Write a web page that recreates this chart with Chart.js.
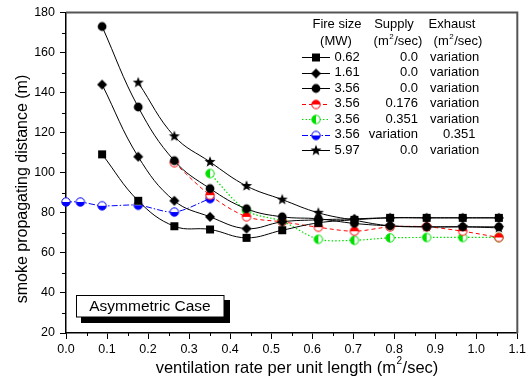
<!DOCTYPE html>
<html>
<head>
<meta charset="utf-8">
<script src="https://cdn.jsdelivr.net/npm/chart.js@4/dist/chart.umd.min.js"></script>
<style>
  html, body { margin: 0; padding: 0; background: #fff; }
  #wrap { width: 529px; height: 379px; position: relative; }
</style>
</head>
<body>
<div id="wrap"><canvas id="chart" width="529" height="379"></canvas></div>
<script>
// ventilation rate per unit length (m2/sec)
const xRate = [0.088, 0.176, 0.264, 0.351, 0.44, 0.527, 0.615, 0.703, 0.79, 0.879, 0.967, 1.055];
const blueX = [0.0, 0.035, 0.088, 0.176, 0.264, 0.351];

// smoke propagating distance (m)
const sq062 = [109.2, 86, 73.3, 71.7, 67.5, 71.3, 75, 76.5, 77.5, 77.5, 77.5, 77.5];
const dia161 = [144, 108, 86, 78, 72.1, 75.5, 76.5, 77, 77.5, 77.5, 77.5, 77.5];
const circ356 = [173, 132.8, 106, 92.1, 82, 78, 77, 74.7, 73.5, 73, 73, 73];
const red356 = [105, 88.8, 78, 75.5, 72.8, 70.8, 73, 73, 70.8, 67.7];      // from 0.264
const green356 = [99.6, 81, 75.8, 66.8, 66.3, 67.5, 67.7, 67.7, 67.7];     // from 0.351
const blue356 = [85.4, 85.4, 83.5, 83.8, 80.4, 87.1];
const star597 = [145, 118.2, 105.4, 93.4, 86.6, 80, 76.3, 73.5, 73, 73, 72.5]; // from 0.176

const legendRows = [
  ['0.62', '0.0', 'variation'],
  ['1.61', '0.0', 'variation'],
  ['3.56', '0.0', 'variation'],
  ['3.56', '0.176', 'variation'],
  ['3.56', '0.351', 'variation'],
  ['3.56', 'variation', '0.351'],
  ['5.97', '0.0', 'variation']
];

const FONT = "Arial, 'Liberation Sans', sans-serif";

function pts(xs, ys) {
  return ys.map((v, i) => ({ x: xs[i], y: v }));
}

function marker(shape, color) {
  const c = document.createElement('canvas');
  c.width = 16; c.height = 16;
  const g = c.getContext('2d');
  const m = 8;
  g.fillStyle = color;
  g.strokeStyle = color;
  if (shape === 'square') {
    g.fillRect(m - 4, m - 4, 8, 8);
  } else if (shape === 'diamond') {
    g.beginPath();
    g.moveTo(m, m - 5); g.lineTo(m + 5, m); g.lineTo(m, m + 5); g.lineTo(m - 5, m);
    g.closePath(); g.fill();
  } else if (shape === 'circle') {
    g.beginPath(); g.arc(m, m, 4.4, 0, Math.PI * 2); g.fill();
  } else if (shape === 'star') {
    g.beginPath();
    for (let i = 0; i < 10; i++) {
      const r = i % 2 === 0 ? 5.8 : 2.4;
      const a = -Math.PI / 2 + i * Math.PI / 5;
      const px = m + r * Math.cos(a), py = m + r * Math.sin(a);
      if (i === 0) g.moveTo(px, py); else g.lineTo(px, py);
    }
    g.closePath(); g.fill();
  } else {
    // half filled circles
    g.beginPath(); g.arc(m, m, 4.2, 0, Math.PI * 2);
    g.fillStyle = '#fff'; g.fill();
    g.fillStyle = color;
    g.beginPath();
    if (shape === 'halfTop') g.arc(m, m, 4.2, Math.PI, 0);
    else if (shape === 'halfBottom') g.arc(m, m, 4.2, 0, Math.PI);
    else g.arc(m, m, 4.2, Math.PI / 2, Math.PI * 1.5);
    g.closePath(); g.fill();
    g.lineWidth = 1;
    g.beginPath(); g.arc(m, m, 4.2, 0, Math.PI * 2); g.stroke();
  }
  return c;
}

const mk = {
  sq: marker('square', '#000'),
  dia: marker('diamond', '#000'),
  circ: marker('circle', '#000'),
  star: marker('star', '#000'),
  red: marker('halfTop', '#ff0000'),
  green: marker('halfLeft', '#00e000'),
  blue: marker('halfBottom', '#0000ff')
};

function series(data, color, style, dash, width, tension) {
  return {
    data: data,
    borderColor: color,
    borderWidth: width,
    borderDash: dash,
    pointStyle: style,
    pointRadius: 5,
    pointHoverRadius: 5,
    tension: tension,
    fill: false,
    clip: false
  };
}

const datasets = [
  series(pts(xRate, sq062), '#000', mk.sq, [], 1, 0.4),
  series(pts(xRate, dia161), '#000', mk.dia, [], 1, 0.4),
  series(pts(xRate, circ356), '#000', mk.circ, [], 1, 0.4),
  series(pts(xRate.slice(2), red356), '#ff0000', mk.red, [4, 3], 1, 0.3),
  series(pts(xRate.slice(3), green356), '#00e000', mk.green, [1.5, 2], 1.2, 0.3),
  series(pts(blueX, blue356), '#0000ff', mk.blue, [6, 2, 1.5, 2], 1, 0.3),
  series(pts(xRate.slice(1), star597), '#000', mk.star, [], 1, 0.4)
];

// text with a raised "2" after "m", centred on cx
function unitText(ctx, pre, post, size, cx, cy) {
  ctx.font = size + 'px ' + FONT;
  const small = Math.round(size * 0.62);
  const w1 = ctx.measureText(pre).width;
  const w3 = ctx.measureText(post).width;
  ctx.font = small + 'px ' + FONT;
  const w2 = ctx.measureText('2').width + 1;
  const x0 = cx - (w1 + w2 + w3) / 2;
  ctx.textAlign = 'left';
  ctx.textBaseline = 'middle';
  ctx.font = size + 'px ' + FONT;
  ctx.fillText(pre, x0, cy);
  ctx.fillText(post, x0 + w1 + w2, cy);
  ctx.font = small + 'px ' + FONT;
  ctx.fillText('2', x0 + w1 + 0.5, cy - size * 0.38);
}

const decor = {
  id: 'decor',
  afterDraw(chart) {
    const ctx = chart.ctx;
    const a = chart.chartArea;
    const xs = chart.scales.x, ys = chart.scales.y;
    ctx.save();

    // top and right frame
    ctx.strokeStyle = '#555';
    ctx.lineWidth = 2;
    ctx.beginPath();
    ctx.moveTo(a.left, a.top); ctx.lineTo(a.right, a.top); ctx.lineTo(a.right, a.bottom);
    ctx.stroke();

    // minor ticks
    ctx.strokeStyle = '#000';
    ctx.lineWidth = 1;
    ctx.beginPath();
    for (let v = 30; v < 180; v += 20) {
      const py = Math.round(ys.getPixelForValue(v)) + 0.5;
      ctx.moveTo(a.left - 4, py); ctx.lineTo(a.left, py);
    }
    for (let v = 0.05; v < 1.1; v += 0.1) {
      const px = Math.round(xs.getPixelForValue(v)) + 0.5;
      ctx.moveTo(px, a.bottom); ctx.lineTo(px, a.bottom + 3);
    }
    ctx.stroke();

    // axis titles
    ctx.fillStyle = '#000';
    unitText(ctx, 'ventilation rate per unit length (m', '/sec)', 16.5, 297, 368);
    ctx.font = '16px ' + FONT;
    ctx.textAlign = 'center';
    ctx.textBaseline = 'middle';
    ctx.save();
    ctx.translate(23, 189);
    ctx.rotate(-Math.PI / 2);
    ctx.fillText('smoke propagating distance (m)', 0, 0);
    ctx.restore();

    // case label box with shadow
    ctx.fillStyle = '#000';
    ctx.fillRect(81, 300, 149, 23);
    ctx.fillStyle = '#fff';
    ctx.fillRect(76, 295, 148, 22);
    ctx.strokeStyle = '#000';
    ctx.lineWidth = 1;
    ctx.strokeRect(76.5, 295.5, 147.5, 21.5);
    ctx.fillStyle = '#000';
    ctx.font = '15.5px ' + FONT;
    ctx.textAlign = 'center';
    ctx.fillText('Asymmetric Case', 150, 306.5);

    // legend table
    ctx.font = '13px ' + FONT;
    ctx.textBaseline = 'middle';
    ctx.textAlign = 'center';
    ctx.fillText('Fire size', 337, 24);
    ctx.fillText('(MW)', 336, 41.5);
    ctx.fillText('Supply', 394, 24);
    ctx.fillText('Exhaust', 452, 24);
    unitText(ctx, '(m', '/sec)', 13, 398, 41.5);
    unitText(ctx, '(m', '/sec)', 13, 458, 41.5);
    ctx.font = '13px ' + FONT;

    const marks = [mk.sq, mk.dia, mk.circ, mk.red, mk.green, mk.blue, mk.star];
    legendRows.forEach((row, i) => {
      const py = 57 + i * 15.5;
      const ds = datasets[i];
      ctx.save();
      ctx.strokeStyle = ds.borderColor;
      ctx.lineWidth = ds.borderWidth;
      ctx.setLineDash(ds.borderDash);
      ctx.beginPath();
      ctx.moveTo(302, Math.round(py) + 0.5); ctx.lineTo(330, Math.round(py) + 0.5);
      ctx.stroke();
      ctx.restore();
      const m = marks[i];
      ctx.drawImage(m, 316 - m.width / 2, Math.round(py) + 0.5 - m.height / 2);
      ctx.fillStyle = '#000';
      ctx.textAlign = 'left';
      ctx.fillText(row[0], 334.5, py);
      ctx.textAlign = 'right';
      ctx.fillText(row[1], 418, py);
      ctx.textAlign = 'left';
      ctx.fillText(row[2], row[2] === 'variation' ? 430 : 443, py);
    });

    ctx.restore();
  }
};

new Chart(document.getElementById('chart').getContext('2d'), {
  type: 'line',
  data: { datasets: datasets },
  options: {
    responsive: false,
    animation: false,
    events: [],
    layout: { padding: { top: 12, right: 8, left: 0, bottom: 0 } },
    plugins: { legend: { display: false }, tooltip: { enabled: false } },
    scales: {
      x: {
        type: 'linear',
        min: 0,
        max: 1.1,
        afterFit: (s) => { s.height = 46; },
        border: { color: '#000', width: 1.5 },
        grid: { drawOnChartArea: false, drawTicks: true, tickLength: 6, color: '#000' },
        ticks: {
          stepSize: 0.1,
          padding: 3,
          color: '#000',
          font: { family: FONT, size: 12.5 },
          maxRotation: 0,
          callback: (v) => v.toFixed(1)
        }
      },
      y: {
        min: 20,
        max: 180,
        afterFit: (s) => { s.width = 66; },
        border: { color: '#000', width: 1.5 },
        grid: { drawOnChartArea: false, drawTicks: true, tickLength: 6, color: '#000' },
        ticks: {
          stepSize: 20,
          padding: 5,
          color: '#000',
          font: { family: FONT, size: 12.5 }
        }
      }
    }
  },
  plugins: [decor]
});
</script>
</body>
</html>
